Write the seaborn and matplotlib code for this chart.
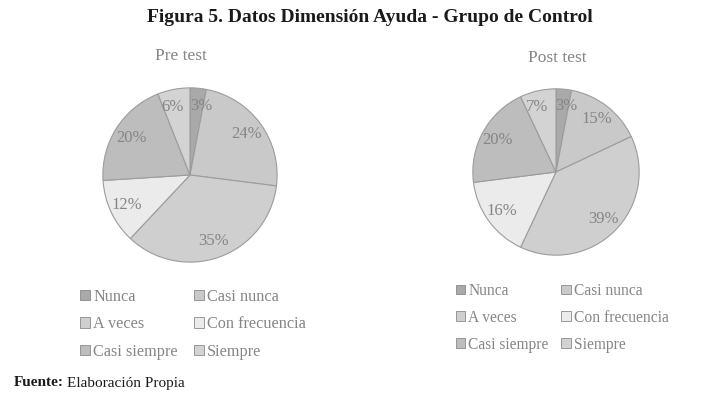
import matplotlib
matplotlib.use("Agg")
import matplotlib.pyplot as plt
from matplotlib.patches import Patch
import seaborn as sns

# data
categorias = ["Nunca", "Casi nunca", "A veces", "Con frecuencia", "Casi siempre", "Siempre"]
pre_test = [3, 24, 35, 12, 20, 6]
post_test = [3, 15, 39, 16, 20, 7]
titulos = ["Pre test", "Post test"]

colores = ["#a9a9a9", "#c9c9c9", "#cfcfcf", "#ebebeb", "#bdbdbd", "#d3d3d3"]
gris_texto = "#858585"

sns.set_theme(style="white")
plt.rcParams["font.family"] = ["Liberation Serif", "DejaVu Serif"]

W, H = 711, 397
fig = plt.figure(figsize=(W / 100, H / 100), dpi=100)
fig.patch.set_facecolor("white")


def px_axes(cx, cy, r):
    # axes box in figure fractions from pixel centre/radius
    return fig.add_axes([(cx - r) / W, 1 - (cy + r) / H, 2 * r / W, 2 * r / H])


def dibujar_pie(ax, valores, titulo, title_xy):
    _, _, autotexts = ax.pie(valores, colors=colores, startangle=90, counterclock=False,
                             radius=1, autopct="%d%%", pctdistance=0.8,
                             wedgeprops=dict(edgecolor="#9c9c9c", linewidth=0.8),
                             textprops=dict(color=gris_texto, fontsize=12))
    # the two thin slices at the top: pull their labels apart a little
    x, y = autotexts[0].get_position()
    autotexts[0].set_position((x + 0.05, y))
    x, y = autotexts[-1].get_position()
    autotexts[-1].set_position((x - 0.05, y))
    ax.set_xlim(-1.01, 1.01)
    ax.set_ylim(-1.01, 1.01)
    ax.set_aspect("equal")
    ax.axis("off")
    fig.text(title_xy[0] / W, 1 - title_xy[1] / H, titulo, ha="center", va="center",
             color=gris_texto, fontsize=12.5)


ax1 = px_axes(190, 175, 88)
dibujar_pie(ax1, pre_test, titulos[0], (181, 56))
ax2 = px_axes(556, 172, 84)
dibujar_pie(ax2, post_test, titulos[1], (557, 58))

# matplotlib fills legend columns first, so reorder to read row by row
orden = [0, 2, 4, 1, 3, 5]
handles = [Patch(facecolor=colores[i], edgecolor="#8a8a8a", linewidth=0.6) for i in orden]
etiquetas = [categorias[i] for i in orden]
for x0, y0, fs, sp in [(80, 289, 11.7, 12), (456, 283, 11.2, 9)]:
    fig.legend(handles, etiquetas, ncol=2, loc="upper left",
               bbox_to_anchor=(x0 / W, 1 - y0 / H), frameon=False,
               fontsize=fs, labelcolor=gris_texto, handlelength=0.6,
               handleheight=0.6, handletextpad=0.2, labelspacing=0.7,
               columnspacing=sp / fs, borderpad=0, borderaxespad=0)

fig.text(370 / W, 1 - 17 / H, "Figura 5. Datos Dimensión Ayuda - Grupo de Control",
         ha="center", va="center", fontsize=14, fontweight="bold", color="#1a1a1a")

t = fig.text(14 / W, 1 - 383 / H, "Fuente:", ha="left", va="center",
             fontsize=11, fontweight="bold", color="#1a1a1a")
fig.canvas.draw()
bb = t.get_window_extent()
fig.text((bb.x1 + 3) / W, 1 - 383 / H, "Elaboración Propia", ha="left", va="center",
         fontsize=11, color="#1a1a1a")

fig.savefig("out.png", dpi=100, facecolor="white")
